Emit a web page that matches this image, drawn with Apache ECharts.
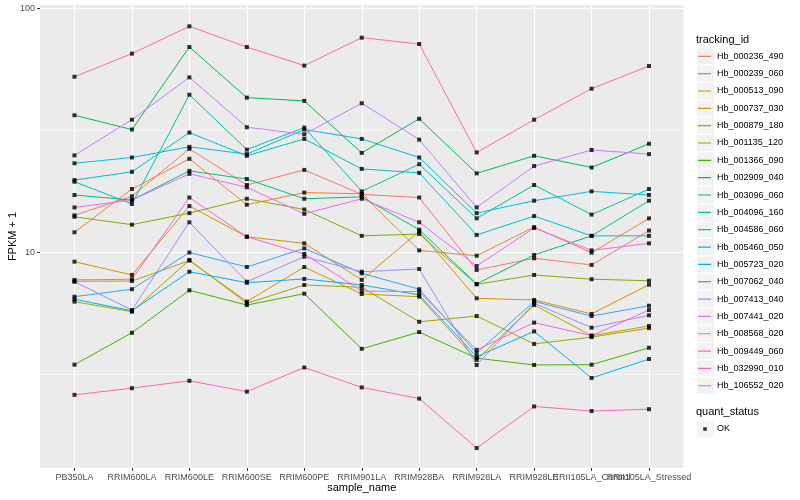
<!DOCTYPE html>
<html>
<head>
<meta charset="utf-8">
<script src="https://cdn.jsdelivr.net/npm/echarts@6/dist/echarts.min.js"></script>
<style>html,body{margin:0;padding:0;background:#fff}#chart{width:800px;height:500px}</style>
</head>
<body>
<div id="chart"></div>
<script>
const categories = ['PB350LA','RRIM600LA','RRIM600LE','RRIM600SE','RRIM600PE','RRIM901LA','RRIM928BA','RRIM928LA','RRIM928LE','RRII105LA_Control','RRII105LA_Stressed'];
const trackingIds = ['Hb_000236_490','Hb_000239_060','Hb_000513_090','Hb_000737_030','Hb_000879_180','Hb_001135_120','Hb_001366_090','Hb_002909_040','Hb_003096_060','Hb_004096_160','Hb_004586_060','Hb_005460_050','Hb_005723_020','Hb_007062_040','Hb_007413_040','Hb_007441_020','Hb_008568_020','Hb_009449_060','Hb_032990_010','Hb_106552_020'];
const yTickValues = [10, 100];
const yMinorValues = [3.1623, 31.623];
const quantStatus = 'OK';

// FPKM + 1 values per tracking_id, in category order
const hb_000236_490 = [14.2, 17.0, 26.6, 18.9, 21.8, 17.3, 16.8, 8.48, 9.47, 8.89, 12.3];
const hb_000239_060 = [12.1, 18.2, 24.2, 15.7, 17.6, 17.4, 10.2, 9.70, 12.7, 9.98, 13.8];
const hb_000513_090 = [9.17, 8.09, 15.5, 11.6, 10.9, 7.72, 12.2, 6.49, 6.39, 5.60, 7.38];
const hb_000737_030 = [7.62, 7.64, 9.26, 6.29, 8.72, 6.76, 6.59, 3.63, 6.09, 4.56, 5.00];
const hb_000879_180 = [6.29, 5.72, 9.32, 6.19, 7.36, 7.20, 5.20, 5.49, 4.22, 4.50, 4.90];
const hb_001135_120 = [14.0, 13.0, 14.5, 16.6, 15.0, 11.7, 11.9, 7.40, 8.09, 7.77, 7.66];
const hb_001366_090 = [3.47, 4.69, 7.00, 6.09, 6.78, 4.03, 4.72, 3.69, 3.46, 3.47, 4.07];
const hb_002909_040 = [36.5, 31.9, 69.5, 43.1, 41.8, 25.6, 35.3, 21.1, 24.9, 22.3, 27.9];
const hb_003096_060 = [17.2, 16.4, 21.6, 20.0, 16.6, 16.9, 12.4, 7.43, 9.77, 11.7, 16.3];
const hb_004096_160 = [19.5, 15.8, 44.3, 26.4, 32.5, 17.8, 23.0, 13.8, 18.9, 14.3, 18.2];
const hb_004586_060 = [19.8, 21.4, 31.0, 24.9, 29.2, 22.0, 21.2, 11.8, 14.1, 11.7, 11.7];
const hb_005460_050 = [23.2, 24.5, 27.1, 25.3, 31.9, 29.2, 24.5, 14.5, 16.3, 17.8, 17.2];
const hb_005723_020 = [6.43, 5.77, 8.34, 7.52, 7.79, 7.36, 6.70, 3.74, 4.75, 3.06, 3.66];
const hb_007062_040 = [6.59, 7.07, 10.0, 8.72, 10.4, 8.22, 7.07, 3.87, 6.30, 5.49, 6.05];
const hb_007413_040 = [7.59, 5.81, 13.3, 7.59, 9.61, 8.34, 8.56, 3.46, 6.19, 4.92, 5.53];
const hb_007441_020 = [25.0, 35.0, 52.2, 32.6, 30.5, 40.9, 29.0, 15.3, 22.6, 26.3, 25.3];
const hb_008568_020 = [15.3, 16.4, 21.0, 18.5, 14.4, 16.6, 13.3, 8.80, 12.6, 10.2, 10.9];
const hb_009449_060 = [7.72, 7.77, 16.8, 11.6, 9.86, 6.95, 6.91, 3.99, 5.16, 4.56, 5.81];
const hb_032990_010 = [2.61, 2.78, 2.98, 2.69, 3.38, 2.80, 2.52, 1.58, 2.34, 2.24, 2.28];
const hb_106552_020 = [52.5, 65.3, 84.5, 69.5, 58.3, 75.9, 71.5, 25.7, 35.0, 46.9, 58.1];

const seriesValues = [hb_000236_490, hb_000239_060, hb_000513_090, hb_000737_030, hb_000879_180,
  hb_001135_120, hb_001366_090, hb_002909_040, hb_003096_060, hb_004096_160, hb_004586_060,
  hb_005460_050, hb_005723_020, hb_007062_040, hb_007413_040, hb_007441_020, hb_008568_020,
  hb_009449_060, hb_032990_010, hb_106552_020];

const palette = ['#F8766D','#EA8331','#D89000','#C09B00','#A3A500','#7CAE00','#39B600','#00BB4E','#00BF7D','#00C1A3','#00BFC4','#00BAE0','#00B0F6','#35A2FF','#9590FF','#C77CFF','#E76BF3','#FA62DB','#FF62BC','#FF6C91'];

const FONT = '"Liberation Sans", Arial, Helvetica, sans-serif';
const catIdx = categories.map((c, i) => i);
const labelGroupA = catIdx.filter(i => i !== 9);
const labelGroupB = [9];

const lineSeries = trackingIds.map((name, k) => ({
  type: 'line', name: name,
  data: seriesValues[k].map((v, i) => [i, v]),
  showSymbol: false, symbol: 'none',
  lineStyle: { width: 1, color: palette[k] },
  itemStyle: { color: palette[k] },
  emphasis: { disabled: true },
  silent: true, animation: false, z: 2
}));

const pointData = [];
seriesValues.forEach(vals => vals.forEach((v, i) => pointData.push([i, v])));

const scatterSeries = {
  type: 'scatter', name: quantStatus, data: pointData,
  symbol: 'rect', symbolSize: 4, itemStyle: { color: '#000000' },
  silent: true, animation: false, z: 5, emphasis: { disabled: true }
};

const lineIcon = 'path://M0,0L0.01,0L0,0.01Z M14.99,15.99L15,16L14.99,16Z M1,7.4L14,7.4L14,8.6L1,8.6Z';
const pointIcon = 'path://M0,0L0.01,0L0,0.01Z M14.99,15.99L15,16L14.99,16Z M6.2,6.2L9.8,6.2L9.8,9.8L6.2,9.8Z';

const boxLegend = (data, top) => ({
  data: data, orient: 'vertical', left: 697, top: top, padding: 0,
  itemWidth: 17, itemHeight: 16, itemGap: 1.34, icon: 'rect', selectedMode: false,
  itemStyle: { color: '#F2F2F2', borderWidth: 0 },
  textStyle: { color: 'rgba(0,0,0,0)', fontSize: 9, fontFamily: FONT }
});
const keyLegend = (data, top, icon) => ({
  data: data, orient: 'vertical', left: 697, top: top, padding: 0,
  itemWidth: 15, itemHeight: 16, itemGap: 1.34, icon: icon, selectedMode: false,
  itemStyle: { borderWidth: 0 },
  textStyle: { color: '#000000', fontSize: 9, fontFamily: FONT }
});

const xCommon = { type: 'value', min: -0.6, max: 10.6, gridIndex: 0, position: 'bottom' };
const yCommon = { type: 'log', logBase: 10, min: 1.309, max: 103.3, gridIndex: 0, position: 'left' };
const xLabelStyle = { formatter: v => categories[Math.round(v)], color: '#4D4D4D', fontSize: 9, margin: 5,
                      fontFamily: FONT, hideOverlap: false, showMinLabel: true, showMaxLabel: true };

const option = {
  animation: false,
  backgroundColor: '#ffffff',
  title: [
    { text: 'tracking_id', left: 696, top: 34, padding: 0,
      textStyle: { fontSize: 11, fontWeight: 'normal', color: '#000', fontFamily: FONT } },
    { text: 'quant_status', left: 696, top: 406, padding: 0,
      textStyle: { fontSize: 11, fontWeight: 'normal', color: '#000', fontFamily: FONT } }
  ],
  legend: [
    boxLegend(trackingIds, 48.3),
    keyLegend(trackingIds, 48.3, lineIcon),
    boxLegend([quantStatus], 421),
    keyLegend([quantStatus], 421, pointIcon)
  ],
  grid: { left: 40, right: 116.5, top: 5, bottom: 32, show: true, backgroundColor: '#EBEBEB',
          borderWidth: 0, containLabel: false, outerBoundsMode: 'none' },
  xAxis: [
    Object.assign({}, xCommon, {
      name: 'sample_name', nameLocation: 'middle', nameGap: 14, nameMoveOverlap: false,
      nameTextStyle: { fontSize: 11, color: '#000', fontFamily: FONT },
      axisLine: { show: false, onZero: false },
      axisTick: { show: true, length: 3, lineStyle: { color: '#333333', width: 1 }, customValues: catIdx },
      axisLabel: Object.assign({ customValues: labelGroupA }, xLabelStyle),
      splitLine: { show: true, lineStyle: { color: '#ffffff', width: 1.1 } },
      minorSplitLine: { show: false }
    }),
    Object.assign({}, xCommon, {
      axisLine: { show: false, onZero: false },
      axisTick: { show: false, customValues: labelGroupB },
      axisLabel: Object.assign({ customValues: labelGroupB }, xLabelStyle),
      splitLine: { show: false }
    })
  ],
  yAxis: [
    Object.assign({}, yCommon, {
      name: 'FPKM + 1', nameLocation: 'middle', nameGap: 22, nameRotate: 90, nameMoveOverlap: false,
      nameTextStyle: { fontSize: 11, color: '#000', fontFamily: FONT },
      axisLine: { show: false, onZero: false },
      axisTick: { show: true, length: 3, lineStyle: { color: '#333333', width: 1 }, customValues: yTickValues },
      axisLabel: { customValues: yTickValues, formatter: v => String(Math.round(v)), color: '#4D4D4D',
                   fontSize: 9, margin: 5, fontFamily: FONT, showMinLabel: true, showMaxLabel: true },
      splitLine: { show: true, lineStyle: { color: '#ffffff', width: 1.1 } },
      z: 1
    }),
    Object.assign({}, yCommon, {
      axisLine: { show: false, onZero: false },
      axisTick: { show: false, customValues: yMinorValues },
      axisLabel: { show: false, customValues: yMinorValues },
      splitLine: { show: true, lineStyle: { color: '#ffffff', width: 0.6 } },
      z: 0
    })
  ],
  series: lineSeries.concat([scatterSeries])
};

const chart = echarts.init(document.getElementById('chart'));
chart.setOption(option);
</script>
</body>
</html>
